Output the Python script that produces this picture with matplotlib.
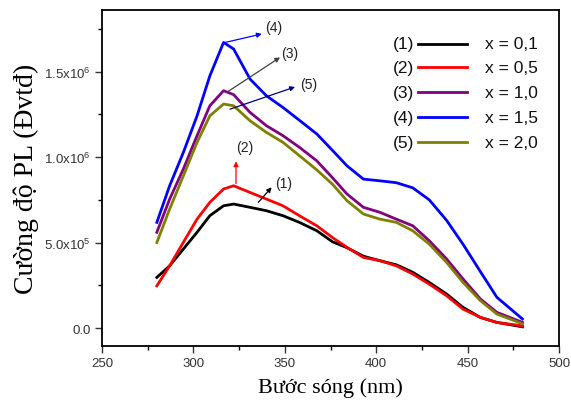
import numpy as np
import matplotlib
matplotlib.use("Agg")
import matplotlib.pyplot as plt

plt.rcParams['font.family'] = ['Liberation Sans', 'DejaVu Sans']
plt.rcParams['mathtext.fontset'] = 'custom'
plt.rcParams['mathtext.rm'] = 'Liberation Sans'
plt.rcParams['mathtext.it'] = 'Liberation Sans'

# wavelength grid (nm) and PL intensity of each sample (x10^6 a.u.)
wl = [280, 287, 294.5, 302, 309, 316.5, 322, 331, 340, 349, 358, 367.5,
      376, 384, 393, 402, 411, 420, 429, 438.5, 447.5, 457, 466, 480]
pl1 = [0.296, 0.364, 0.462, 0.56, 0.657, 0.715, 0.725, 0.706, 0.686, 0.657, 0.618, 0.569,
       0.505, 0.47, 0.42, 0.394, 0.37, 0.326, 0.267, 0.199, 0.121, 0.062, 0.033, 0.007]
pl2 = [0.247, 0.364, 0.501, 0.637, 0.735, 0.813, 0.832, 0.793, 0.754, 0.715, 0.657, 0.598,
       0.53, 0.472, 0.413, 0.394, 0.364, 0.316, 0.257, 0.189, 0.111, 0.062, 0.033, 0.013]
pl3 = [0.56, 0.754, 0.93, 1.125, 1.30, 1.388, 1.365, 1.261, 1.183, 1.125, 1.057, 0.978,
       0.88, 0.784, 0.706, 0.677, 0.637, 0.598, 0.511, 0.404, 0.287, 0.17, 0.092, 0.033]
pl4 = [0.618, 0.832, 1.027, 1.241, 1.475, 1.67, 1.632, 1.456, 1.358, 1.29, 1.215, 1.135,
       1.04, 0.949, 0.871, 0.861, 0.85, 0.82, 0.75, 0.63, 0.49, 0.33, 0.18, 0.053]
pl5 = [0.50, 0.696, 0.89, 1.086, 1.241, 1.31, 1.30, 1.212, 1.144, 1.086, 1.008, 0.925,
       0.842, 0.745, 0.667, 0.637, 0.618, 0.569, 0.491, 0.384, 0.267, 0.16, 0.082, 0.025]

tags = ['(1)', '(2)', '(3)', '(4)', '(5)']
xvals = ['x = 0,1', 'x = 0,5', 'x = 1,0', 'x = 1,5', 'x = 2,0']
colors = ['#000000', '#ff0000', '#800080', '#0000ff', '#808000']

fig = plt.figure(figsize=(5.71, 4.10), dpi=100)
ax = fig.add_axes([102/571, 63/410, 457/571, 336/410])

wl = np.array(wl)
for y, c in zip([pl1, pl2, pl3, pl4, pl5], colors):
    ax.plot(wl, np.array(y) * 1e6, color=c, lw=2.0, solid_joinstyle='round')

# arrows pointing at each curve with its number
arrows = [
    ('(1)', (335.5, 0.735e6), (342.8, 0.823e6), (349.5, 0.85e6), '#000000'),
    ('(2)', (323.3, 0.845e6), (323.3, 0.975e6), (328.2, 1.06e6), '#ff0000'),
    ('(3)', (318.2, 1.378e6), (347.4, 1.583e6), (352.5, 1.61e6), '#404040'),
    ('(4)', (317.3, 1.67e6), (337.4, 1.72e6), (344.0, 1.76e6), '#0000ff'),
    ('(5)', (320.0, 1.28e6), (355.6, 1.41e6), (363.0, 1.43e6), '#000080'),
]
for t, tail, head, pos, c in arrows:
    ax.annotate('', xy=head, xytext=tail,
                arrowprops=dict(arrowstyle='-|>', color=c, lw=0.9, mutation_scale=7,
                                shrinkA=0, shrinkB=0))
    ax.text(pos[0], pos[1], t, fontsize=10, ha='center', va='center', color='#222222')

# legend drawn by hand: tag, line sample, composition
rows = [0.899, 0.829, 0.755, 0.681, 0.606]
for t, xv, c, yy in zip(tags, xvals, colors, rows):
    ax.text(0.683, yy, t, transform=ax.transAxes, ha='right', va='center', fontsize=12.5, color='#111111')
    ax.plot([0.691, 0.799], [yy, yy], transform=ax.transAxes, color=c, lw=2)
    ax.text(0.838, yy, xv, transform=ax.transAxes, ha='left', va='center', fontsize=12.5, color='#111111')

ax.set_xlim(250, 500)
ax.set_ylim(-1.05e5, 1.86e6)
ax.set_xticks([250, 300, 350, 400, 450, 500])
ax.set_xticks([275, 325, 375, 425, 475], minor=True)
ax.set_yticks([0, 5e5, 1e6, 1.5e6])
ax.set_yticklabels(['0.0', r'5.0x10$^{5}$', r'1.0x10$^{6}$', r'1.5x10$^{6}$'])
ax.set_yticks([2.5e5, 7.5e5, 1.25e6, 1.75e6], minor=True)
ax.tick_params(which='major', direction='out', length=5, width=1, labelsize=9.5, colors='#333333', pad=3)
ax.tick_params(which='minor', direction='out', length=3, width=1)
for s in ax.spines.values():
    s.set_linewidth(1.3)

ax.set_xlabel('Bước sóng (nm)', family='Liberation Serif', fontsize=16, labelpad=6)
ax.set_ylabel('Cường độ PL (Đvtđ)', family='Liberation Serif', fontsize=20, labelpad=4)

fig.savefig('out.png', dpi=100)
